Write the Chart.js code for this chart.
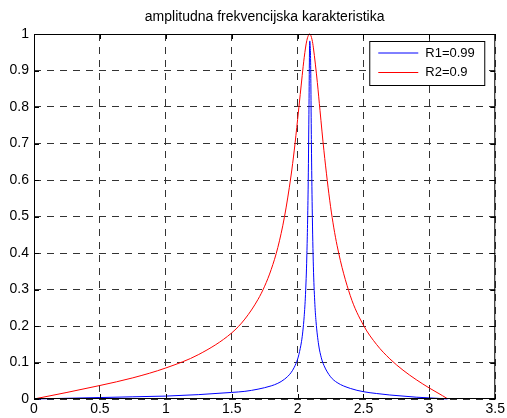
<!DOCTYPE html>
<html>
<head>
<meta charset="utf-8">
<script src="https://cdn.jsdelivr.net/npm/chart.js@4/dist/chart.umd.min.js"></script>
<style>
  html, body { margin: 0; padding: 0; background: #ffffff; }
  #wrap { width: 507px; height: 418px; }
</style>
</head>
<body>
<div id="wrap"><canvas id="chart" width="507" height="418"></canvas></div>
<script>
// Amplitude response of two resonators (pole radius 0.99 and 0.9)
const chartTitle = 'amplitudna frekvencijska karakteristika';
const seriesLabels = ['R1=0.99', 'R2=0.9'];

const xTickValues = [0, 0.5, 1, 1.5, 2, 2.5, 3, 3.5];
const yTickValues = [0, 0.1, 0.2, 0.3, 0.4, 0.5, 0.6, 0.7, 0.8, 0.9, 1];

// R1 = 0.99 (blue)
const freqR1 = [0, 0.25, 0.5, 0.75, 1.0, 1.25, 1.5, 1.6, 1.7, 1.8, 1.85, 1.9, 1.95, 1.975,
                2.0, 2.01, 2.03, 2.04, 2.05, 2.06, 2.07, 2.08, 2.086, 2.092, 2.099, 2.105,
                2.111, 2.12, 2.13, 2.14, 2.16, 2.18, 2.2, 2.25, 2.3, 2.4, 2.5, 2.6, 2.7,
                2.8, 2.9, 3.0, 3.1, 3.136];
const ampR1  = [0, 0.002, 0.004, 0.006, 0.008, 0.012, 0.018, 0.021, 0.027, 0.036, 0.043, 0.054, 0.072, 0.087,
                0.109, 0.122, 0.158, 0.186, 0.226, 0.286, 0.389, 0.575, 0.779, 0.981, 0.923, 0.698,
                0.523, 0.362, 0.268, 0.212, 0.148, 0.113, 0.092, 0.061, 0.045, 0.029, 0.020, 0.015, 0.011,
                0.008, 0.005, 0.003, 0.001, 0.000];

// R2 = 0.9 (red)
const freqR2 = [0, 0.25, 0.5, 0.75, 1.0, 1.25, 1.5, 1.6, 1.7, 1.75, 1.8, 1.85, 1.9, 1.95, 1.975,
                2.0, 2.02, 2.035, 2.05, 2.07, 2.092, 2.11, 2.12, 2.15, 2.17, 2.2, 2.25, 2.3,
                2.4, 2.5, 2.6, 2.7, 2.8, 2.9, 3.0, 3.1, 3.136];
const ampR2  = [0, 0.018, 0.037, 0.058, 0.085, 0.122, 0.181, 0.219, 0.273, 0.309, 0.355, 0.415, 0.498, 0.611, 0.682,
                0.765, 0.834, 0.886, 0.935, 0.982, 1.0, 0.984, 0.962, 0.867, 0.791, 0.680, 0.528, 0.420,
                0.283, 0.202, 0.149, 0.110, 0.079, 0.053, 0.030, 0.009, 0.001];

const FONT_FAMILY = '"Liberation Sans", Arial, Helvetica, sans-serif';
Chart.defaults.font.family = FONT_FAMILY;
Chart.defaults.font.size = 14;
Chart.defaults.color = '#000000';

const toPoints = (xs, ys) => xs.map((x, i) => ({ x: x, y: ys[i] }));

// Axes frame with inward ticks on all four sides, title and boxed legend
const framePlugin = {
  id: 'frame',
  afterDraw(chart) {
    const { ctx, chartArea: a, scales } = chart;
    ctx.save();
    ctx.strokeStyle = '#000000';
    ctx.lineWidth = 1;
    ctx.strokeRect(a.left + 0.5, a.top + 0.5, a.right - a.left - 1, a.bottom - a.top - 1);

    const tick = 5;
    ctx.beginPath();
    xTickValues.forEach(v => {
      const px = Math.round(scales.x.getPixelForValue(v)) + 0.5;
      ctx.moveTo(px, a.bottom); ctx.lineTo(px, a.bottom - tick);
      ctx.moveTo(px, a.top); ctx.lineTo(px, a.top + tick);
    });
    yTickValues.forEach(v => {
      const py = Math.round(scales.y.getPixelForValue(v)) + 0.5;
      ctx.moveTo(a.left, py); ctx.lineTo(a.left + tick, py);
      ctx.moveTo(a.right, py); ctx.lineTo(a.right - tick, py);
    });
    ctx.stroke();

    // title
    ctx.fillStyle = '#000000';
    ctx.font = '14px ' + FONT_FAMILY;
    ctx.textAlign = 'center';
    ctx.textBaseline = 'middle';
    ctx.fillText(chartTitle, (a.left + a.right) / 2, 17);

    // legend box
    const bw = 115, bh = 44;
    const bx = a.right - 11 - bw, by = a.top + 7;
    ctx.fillStyle = '#ffffff';
    ctx.fillRect(bx, by, bw, bh);
    ctx.strokeStyle = '#000000';
    ctx.strokeRect(bx + 0.5, by + 0.5, bw, bh);
    ctx.font = '13px ' + FONT_FAMILY;
    chart.data.datasets.forEach((ds, i) => {
      const ly = by + 12 + i * 19.5;
      ctx.strokeStyle = ds.borderColor;
      ctx.beginPath();
      ctx.moveTo(bx + 9, ly);
      ctx.lineTo(bx + 49, ly);
      ctx.stroke();
      ctx.fillStyle = '#000000';
      ctx.textAlign = 'left';
      ctx.fillText(ds.label, bx + 56, ly);
    });
    ctx.restore();
  }
};

new Chart(document.getElementById('chart'), {
  type: 'line',
  data: {
    datasets: [
      {
        label: seriesLabels[0],
        data: toPoints(freqR1, ampR1),
        borderColor: '#0000ff',
        borderWidth: 1,
        pointRadius: 0,
        cubicInterpolationMode: 'monotone',
        fill: false,
        clip: false
      },
      {
        label: seriesLabels[1],
        data: toPoints(freqR2, ampR2),
        borderColor: '#ff0000',
        borderWidth: 1,
        pointRadius: 0,
        cubicInterpolationMode: 'monotone',
        fill: false,
        clip: false
      }
    ]
  },
  options: {
    responsive: false,
    animation: false,
    events: [],
    layout: { padding: { top: 34, right: 7, left: 0, bottom: 0 } },
    plugins: {
      legend: { display: false },
      title: { display: false },
      tooltip: { enabled: false }
    },
    scales: {
      x: {
        type: 'linear',
        min: 0,
        max: 3.5,
        afterBuildTicks: s => { s.ticks = xTickValues.map(v => ({ value: v })); },
        afterFit: s => { s.height = 19; },
        ticks: { autoSkip: false, maxRotation: 0, padding: 2, callback: v => String(v) },
        grid: { color: '#333333', lineWidth: 1, drawTicks: false },
        border: { display: false, dash: [7, 6] }
      },
      y: {
        type: 'linear',
        min: 0,
        max: 1,
        afterBuildTicks: s => { s.ticks = yTickValues.map(v => ({ value: v })); },
        afterFit: s => { s.width = 34; },
        ticks: { autoSkip: false, padding: 5, callback: v => String(Math.round(v * 10) / 10) },
        grid: { color: '#333333', lineWidth: 1, drawTicks: false },
        border: { display: false, dash: [7, 6] }
      }
    }
  },
  plugins: [framePlugin]
});
</script>
</body>
</html>
